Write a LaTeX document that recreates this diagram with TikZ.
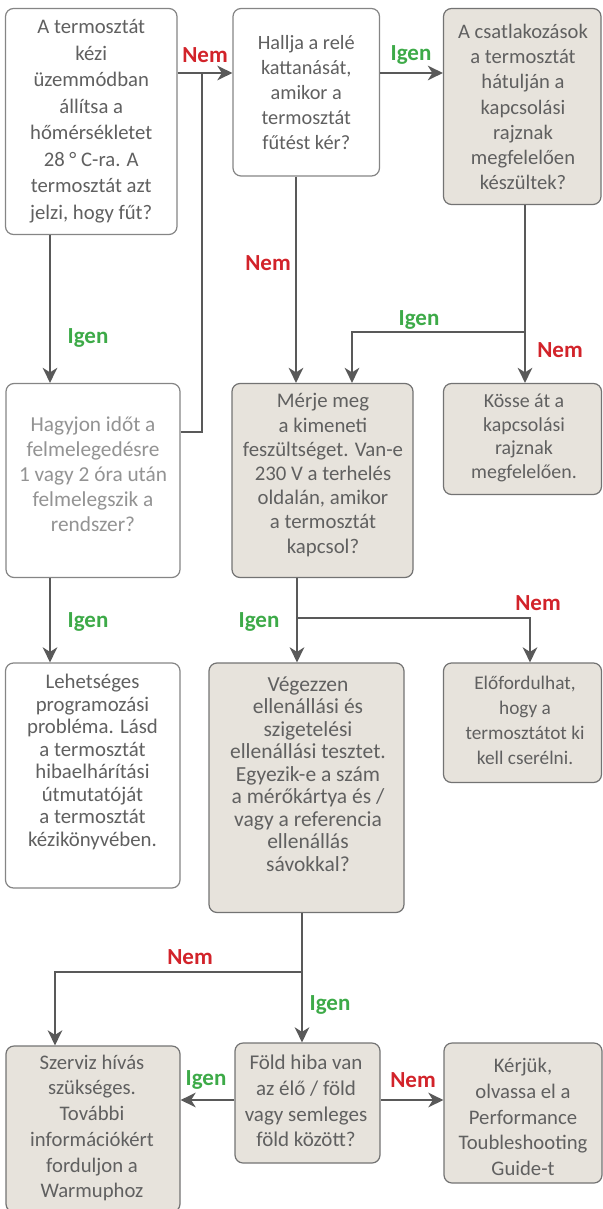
\documentclass[tikz,border=0pt]{standalone}
\usepackage{fontspec}
\setmainfont{Carlito}
\usetikzlibrary{arrows.meta,calc}
\definecolor{boxfill}{HTML}{E7E3DC}
\definecolor{boxline}{HTML}{737373}
\definecolor{wline}{HTML}{858585}
\definecolor{txtc}{HTML}{606060}
\definecolor{lighttxt}{HTML}{939393}
\definecolor{arrc}{HTML}{595959}
\definecolor{nemred}{HTML}{D2232A}
\definecolor{igengreen}{HTML}{3DAA48}
\tikzset{
  wbox/.style={draw=wline, line width=1.2pt, fill=white, rounded corners=8pt, inner sep=0pt},
  gbox/.style={draw=boxline, line width=1.2pt, fill=boxfill, rounded corners=8pt, inner sep=0pt},
  txt/.style={text=txtc, align=center, inner sep=0pt},
  ln/.style={draw=arrc, line width=2.6pt},
  arr/.style={ln, -{Stealth[length=15pt, width=14.5pt, inset=4.5pt]}},
  nemlbl/.style={text=nemred, font=\fontsize{23}{27}\selectfont\bfseries, inner sep=0pt},
  igenlbl/.style={text=igengreen, font=\fontsize{23}{27}\selectfont\bfseries, inner sep=0pt},
}
\begin{document}
\begin{tikzpicture}[x=1pt,y=-1pt]
\useasboundingbox (0,0) rectangle (602,1209);
% boxes
\node[wbox, minimum width=171.5pt, minimum height=226pt] (b1) at (91.25,121.5) {};
\node[wbox, minimum width=146.5pt, minimum height=167.5pt] (b2) at (306.25,92.25) {};
\node[gbox, minimum width=157.5pt, minimum height=196pt] (b3) at (522.25,106.5) {};
\node[wbox, minimum width=174pt, minimum height=194pt] (b4) at (93,480.5) {};
\node[gbox, minimum width=181pt, minimum height=194pt] (b5) at (322.5,480.5) {};
\node[gbox, minimum width=158pt, minimum height=111pt] (b6) at (522.5,439) {};
\node[wbox, minimum width=174.5pt, minimum height=225pt] (b7) at (92.75,775.5) {};
\node[gbox, minimum width=195pt, minimum height=249.5pt] (b8) at (306.5,787.75) {};
\node[gbox, minimum width=158pt, minimum height=119.5pt] (b9) at (522.5,722.75) {};
\node[gbox, minimum width=174pt, minimum height=166pt] (b10) at (93,1129) {};
\node[gbox, minimum width=145pt, minimum height=120pt] (b11) at (307.5,1103) {};
\node[gbox, minimum width=158pt, minimum height=140pt] (b12) at (523,1113) {};
% texts
\node[txt, font=\fontsize{20.7}{26.5}\selectfont] (t1) at (91.25,121) {A termosztát\\kézi\\üzemmódban\\állítsa a\\hőmérsékletet\\28 ° C-ra. A\\termosztát azt\\jelzi, hogy fűt?};
\node[txt, font=\fontsize{20.3}{25}\selectfont] (t2) at (306.25,93) {Hallja a relé\\kattanását,\\amikor a\\termosztát\\fűtést kér?};
\node[txt, font=\fontsize{20.6}{25.3}\selectfont] (t3) at (523,107) {A csatlakozások\\a termosztát\\hátulján a\\kapcsolási\\rajznak\\megfelelően\\készültek?};
\node[txt, text=lighttxt, font=\fontsize{21.3}{25}\selectfont] (t4) at (93,474) {Hagyjon időt a\\felmelegedésre\\1 vagy 2 óra után\\felmelegszik a\\rendszer?};
\node[txt, font=\fontsize{20.8}{24.2}\selectfont] (t5) at (323,475) {Mérje meg\\a kimeneti\\feszültséget. Van-e\\230 V a terhelés\\oldalán, amikor\\a termosztát\\kapcsol?};
\node[txt, font=\fontsize{19.9}{23.7}\selectfont] (t6) at (524,438) {Kösse át a\\kapcsolási\\rajznak\\megfelelően.};
\node[txt, font=\fontsize{20.8}{22.5}\selectfont] (t7) at (92.5,762) {Lehetséges\\programozási\\probléma. Lásd\\a termosztát\\hibaelhárítási\\útmutatóját\\a termosztát\\kézikönyvében.};
\node[txt, font=\fontsize{21.5}{22.5}\selectfont] (t8) at (308,774) {Végezzen\\ellenállási és\\szigetelési\\ellenállási tesztet.\\Egyezik-e a szám\\a mérőkártya és /\\vagy a referencia\\ellenállás\\sávokkal?};
\node[txt, font=\fontsize{19.3}{25}\selectfont] (t9) at (525,720) {Előfordulhat,\\hogy a\\termosztátot ki\\kell cserélni.};
\node[txt, font=\fontsize{20.7}{25.7}\selectfont] (t10) at (92,1128) {Szerviz hívás\\szükséges.\\További\\információkért\\forduljon a\\Warmuphoz};
\node[txt, font=\fontsize{21}{25.7}\selectfont] (t11) at (306,1101) {Föld hiba van\\az élő / föld\\vagy semleges\\föld között?};
\node[txt, font=\fontsize{20.7}{25.8}\selectfont] (t12) at (523,1117) {Kérjük,\\olvassa el a\\Performance\\Toubleshooting\\Guide-t};
% junction coordinates
\coordinate (j1) at (202,73);
\coordinate (j2) at (202,432);
\coordinate (c1) at (50,300);
\coordinate (c2) at (296,300);
\coordinate (j3) at (525,332);
\coordinate (c3) at (352,332);
\coordinate (j4) at (297,618);
\coordinate (c4) at (530,618);
\coordinate (j5) at (302,972);
\coordinate (c5) at (55,972);
\coordinate (j6) at (300,1100);
% connectors
\draw[arr] (b1.east |- j1) -- (b2.west |- j1);
\draw[ln] (b4.east |- j2) -- (j2) -- (j1);
\draw[arr] (b2.east |- j1) -- (b3.west |- j1);
\draw[arr] (b1.south -| c1) -- (b4.north -| c1);
\draw[arr] (b4.south -| c1) -- (b7.north -| c1);
\draw[arr] (b2.south -| c2) -- (b5.north -| c2);
\draw[ln] (b3.south -| j3) -- (j3);
\draw[arr] (j3) -- (c3) -- (b5.north -| c3);
\draw[arr] (j3) -- (b6.north -| j3);
\draw[ln] (b5.south -| j4) -- (j4);
\draw[arr] (j4) -- (b8.north -| j4);
\draw[arr] (j4) -- (c4) -- (b9.north -| c4);
\draw[ln] (b8.south -| j5) -- (j5);
\draw[arr] (j5) -- (b11.north -| j5);
\draw[arr] (j5) -- (c5) -- (b10.north -| c5);
\draw[arr] (b11.west |- j6) -- (b10.east |- j6);
\draw[arr] (b11.east |- j6) -- (b12.west |- j6);
% labels
\node[nemlbl] (l1) at (205,55) {Nem};
\node[igenlbl] (l2) at (411,55) {Igen};
\node[igenlbl] (l3) at (88,338) {Igen};
\node[nemlbl] (l4) at (268,263) {Nem};
\node[igenlbl] (l5) at (419,320) {Igen};
\node[nemlbl] (l6) at (560,350) {Nem};
\node[igenlbl] (l7) at (88,622) {Igen};
\node[igenlbl] (l8) at (259,622) {Igen};
\node[nemlbl] (l9) at (538,603) {Nem};
\node[nemlbl] (l10) at (190,957) {Nem};
\node[igenlbl] (l11) at (330,1005) {Igen};
\node[igenlbl] (l12) at (206,1080) {Igen};
\node[nemlbl] (l13) at (413,1080) {Nem};
\end{tikzpicture}
\end{document}
